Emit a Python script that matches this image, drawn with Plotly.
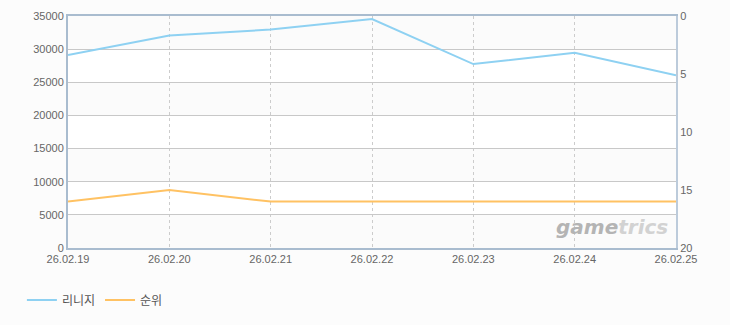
import plotly.graph_objects as go

dates = ["26.02.19", "26.02.20", "26.02.21", "26.02.22", "26.02.23", "26.02.24", "26.02.25"]
lineage = [29100, 32050, 32950, 34550, 27750, 29450, 26050]
rank = [16, 15, 16, 16, 16, 16, 16]
band_edges = [0, 5000, 10000, 15000, 20000, 25000, 30000, 35000]

font_family = "Liberation Sans, Noto Sans CJK KR, sans-serif"

fig = go.Figure()
fig.add_trace(go.Scatter(x=dates, y=lineage, name="리니지", mode="lines",
                         line=dict(color="#8ed1f2", width=2), yaxis="y"))
fig.add_trace(go.Scatter(x=dates, y=rank, name="순위", mode="lines",
                         line=dict(color="#ffc263", width=2), yaxis="y2"))

shapes = []
for i in range(0, len(band_edges) - 1, 2):
    shapes.append(dict(type="rect", xref="paper", yref="y", x0=0, x1=1,
                       y0=band_edges[i], y1=band_edges[i + 1],
                       fillcolor="#fbfbfb", line=dict(width=0), layer="below"))

fig.update_layout(
    width=730, height=325,
    margin=dict(l=68, r=54, t=16, b=77, autoexpand=False),
    paper_bgcolor="#fcfcfc",
    plot_bgcolor="#ffffff",
    font=dict(family=font_family, size=11, color="#666666"),
    shapes=shapes,
    showlegend=True,
    legend=dict(orientation="h", xref="container", yref="container",
                x=0.03, xanchor="left", y=0.077, yanchor="middle",
                font=dict(size=12, color="#555555"), bgcolor="rgba(0,0,0,0)"),
    xaxis=dict(type="category", range=[0, 6], showgrid=True, gridcolor="#cccccc",
               griddash="3px,3px", gridwidth=1, showline=True, linecolor="#a9bccf",
               linewidth=2, mirror=True, ticks="", tickfont=dict(size=11, color="#666666"),
               zeroline=False),
    yaxis=dict(range=[0, 35000], dtick=5000, showgrid=True, gridcolor="#c8c8c8",
               gridwidth=1, showline=True, linecolor="#a9bccf", linewidth=2,
               ticks="", zeroline=False, tickfont=dict(size=11, color="#666666"),
               tickformat="d"),
    yaxis2=dict(range=[20, 0], dtick=5, overlaying="y", side="right", showgrid=False,
                showline=True, linecolor="#bccbdb", linewidth=2, ticks="",
                zeroline=False, tickfont=dict(size=11, color="#666666")),
    annotations=[dict(
        xref="paper", yref="paper", x=0.895, y=0.09, xanchor="center", yanchor="middle",
        text="<b><i><span style='color:#b4b4b4'>game</span><span style='color:#d2d2d2'>trics</span></i></b>",
        showarrow=False, font=dict(size=20, family="DejaVu Sans, sans-serif"))],
)

fig.write_html("out.html")
